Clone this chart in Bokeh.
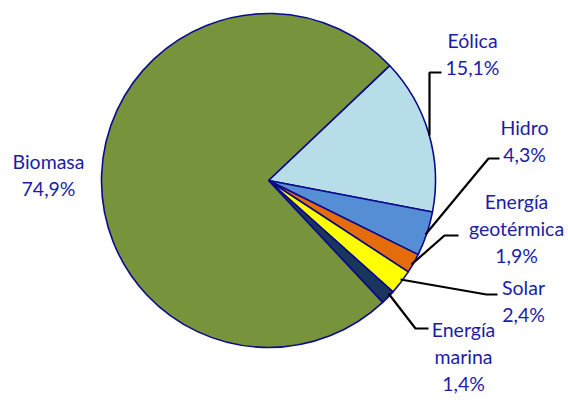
import math
from bokeh.plotting import figure
from bokeh.models import Range1d, ColumnDataSource
from bokeh.core.properties import value
from bokeh.embed import file_html
from bokeh.resources import INLINE

# Data (clockwise order starting from the Eólica slice)
categories = ["Eólica", "Hidro", "Energía geotérmica", "Solar", "Energía marina", "Biomasa"]
shares = [15.1, 4.3, 1.9, 2.4, 1.4, 74.9]
share_labels = ["15,1%", "4,3%", "1,9%", "2,4%", "1,4%", "74,9%"]
label_lines = [["Eólica"], ["Hidro"], ["Energía", "geotérmica"], ["Solar"], ["Energía", "marina"], ["Biomasa"]]
colors = ["#B7DDE8", "#558ED5", "#E46C0A", "#FFFF00", "#1B365D", "#77933C"]

W, H = 566, 405

def Y(sy):
    return H - sy

p = figure(width=W, height=H, output_backend="svg", toolbar_location=None,
           x_range=Range1d(0, W), y_range=Range1d(0, H),
           min_border=0)
p.axis.visible = False
p.grid.visible = False
p.outline_line_color = None
p.background_fill_color = "white"

cx, cy, r = 268, Y(180), 167
start_deg = 43.5
total = sum(shares)
ends, starts = [], []
a = start_deg
for s in shares:
    b = a - s / total * 360.0
    starts.append(math.radians(b))
    ends.append(math.radians(a))
    a = b

src = ColumnDataSource(dict(start=starts, end=ends, color=colors, name=categories))
p.wedge(x=cx, y=cy, radius=r, start_angle="start", end_angle="end", fill_color="color",
        line_color="#0A0A8C", line_width=1.6, source=src)

# leader lines (screen coordinates)
leaders = [
    [(441, 72), (429, 72), (429, 135)],
    [(499, 158), (488, 158), (425, 234)],
    [(458, 235), (444, 235), (411, 264)],
    [(497, 294), (486, 294), (400, 279)],
    [(428, 328), (415, 328), (388, 293)],
]
for pts in leaders:
    p.line([q[0] for q in pts], [Y(q[1]) for q in pts], line_color="black", line_width=2.2)

# label anchor centers (x, y of first line) in screen coords
anchors = [(472, 40), (524, 127), (516, 201), (523, 287), (463, 329), (48, 161)]
lh = 27
tx, ty, tt = [], [], []
for lines, pct, (ax, ay) in zip(label_lines, share_labels, anchors):
    allt = lines + [pct]
    for i, t in enumerate(allt):
        tx.append(ax)
        ty.append(Y(ay + i * lh))
        tt.append(t)
p.text(x=tx, y=ty, text=tt, text_align="center", text_baseline="middle",
       text_font=value("Lato"), text_font_size="19.5px", text_color="#1C1CA8")

open("out.html", "w").write(file_html(p, INLINE))
